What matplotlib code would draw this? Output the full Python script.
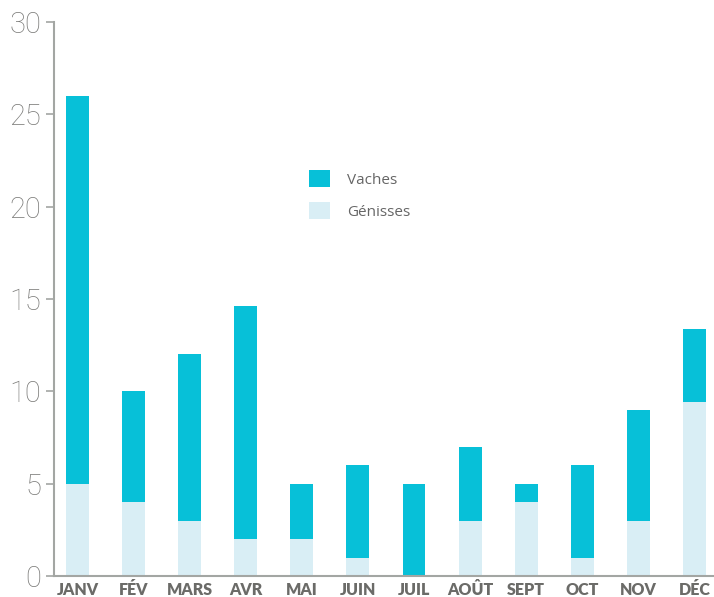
import numpy as np
import matplotlib.pyplot as plt

mois = ['JANV', 'FÉV', 'MARS', 'AVR', 'MAI', 'JUIN', 'JUIL', 'AOÛT', 'SEPT', 'OCT', 'NOV', 'DÉC']
genisses = [5, 4, 3, 2, 2, 1, 0, 3, 4, 1, 3, 9.4]
vaches = [21, 6, 9, 12.6, 3, 5, 5, 4, 1, 5, 6, 4]

c_vaches = '#07c0d8'
c_genisses = '#d9eef5'
gris = '#a3a6a3'

fig = plt.figure(figsize=(7.14, 5.97), dpi=100)
ax = fig.add_axes([54/714, 21/597, 1 - 54/714, (576 - 22)/597])

x = np.arange(len(mois))
ax.bar(x, genisses, width=0.41, color=c_genisses, label='Génisses', zorder=2)
ax.bar(x, vaches, width=0.41, bottom=genisses, color=c_vaches, label='Vaches', zorder=2)

ax.set_xlim(-0.42, 11.35)
ax.set_ylim(0, 30)
ax.set_yticks([0, 5, 10, 15, 20, 25, 30])
ax.set_xticks(x)
ax.set_xticklabels(mois, fontfamily='Lato', fontweight='heavy', fontsize=11.5, color='#6b6b68')

for s in ['top', 'right']:
    ax.spines[s].set_visible(False)
for s in ['left', 'bottom']:
    ax.spines[s].set_color(gris)
    ax.spines[s].set_linewidth(1.5)
    ax.spines[s].set_zorder(3)

ax.tick_params(axis='y', length=6, width=1.2, color=gris, pad=3,
               labelsize=21, labelcolor='#7a7a78')
for lab in ax.get_yticklabels():
    lab.set_fontfamily('Roboto')
    lab.set_fontweight('light')
ax.tick_params(axis='x', length=0, pad=4)

handles, labels = ax.get_legend_handles_labels()
ax.legend(handles[::-1], labels[::-1], loc='upper left', bbox_to_anchor=(0.365, 0.757),
          frameon=False, handlelength=1.4, handleheight=1.3, handletextpad=1.1,
          labelspacing=0.95, prop={'family': 'Open Sans', 'size': 11}, labelcolor='#666666')

fig.savefig('out.png', dpi=100)
